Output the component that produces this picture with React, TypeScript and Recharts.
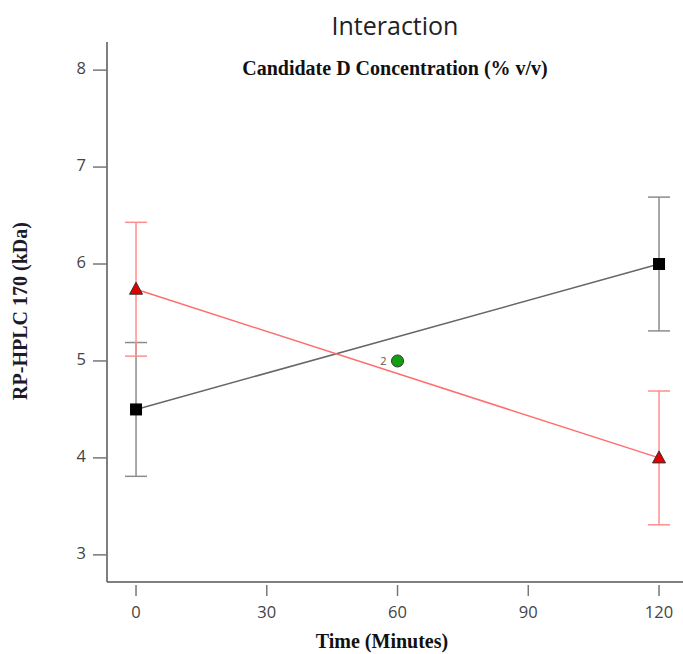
import { ComposedChart, ErrorBar, Line, Scatter, XAxis, YAxis } from 'recharts';

// Interaction plot: RP-HPLC 170 response vs. time at low / high Candidate D.
const TIME = [0, 120];
const LOW_D = [4.5, 6.0];
const LOW_D_ERR = [0.69, 0.69];
const HIGH_D = [5.74, 4.0];
const HIGH_D_ERR = [0.69, 0.69];
const CENTER_T = [60];
const CENTER_V = [5.0];
const CENTER_N = ['2'];

const X_TICKS = [0, 30, 60, 90, 120];
const Y_TICKS = [3, 4, 5, 6, 7, 8];

const lowData = TIME.map((t, i) => ({ t, v: LOW_D[i], e: LOW_D_ERR[i] }));
const highData = TIME.map((t, i) => ({ t, v: HIGH_D[i], e: HIGH_D_ERR[i] }));
const centerData = CENTER_T.map((t, i) => ({ t, v: CENTER_V[i], n: CENTER_N[i] }));

const SANS = '"Open Sans", "Noto Sans", sans-serif';
const SERIF = '"Liberation Serif", "DejaVu Serif", serif';

const XTick = ({ x, y, payload }: any) => (
  <g>
    <line x1={x} x2={x} y1={y + 3} y2={y + 14} stroke="#777" strokeWidth={1.5} />
    <text x={x} y={y + 36} textAnchor="middle" fill="#444" fontSize={16.5} fontFamily={SANS}>
      {payload.value}
    </text>
  </g>
);

const YTick = ({ x, y, payload }: any) => (
  <g>
    <line x1={x - 14} x2={x} y1={y} y2={y} stroke="#777" strokeWidth={1.5} />
    <text x={x - 21} y={y + 4} textAnchor="end" fill="#444" fontSize={16.5} fontFamily={SANS}>
      {payload.value}
    </text>
  </g>
);

const squareDot = (p: any) => (
  <rect key={`sq-${p.index}`} x={p.cx - 6} y={p.cy - 6} width={12} height={12} fill="#000" />
);

const triangleDot = (p: any) => (
  <path
    key={`tri-${p.index}`}
    d={`M${p.cx},${p.cy - 7} L${p.cx + 6.5},${p.cy + 5} L${p.cx - 6.5},${p.cy + 5} Z`}
    fill="#e00000"
    stroke="#333"
    strokeWidth={1}
  />
);

const centerShape = (p: any) => (
  <g>
    <circle cx={p.cx} cy={p.cy} r={6} fill="#12a012" stroke="#333" strokeWidth={1} />
    <text x={p.cx - 11} y={p.cy + 4} textAnchor="end" fill="#555" fontSize={11} fontFamily={SANS}>
      {p.payload.n}
    </text>
  </g>
);

export default function App() {
  return (
    <div style={{ position: 'absolute', left: 0, top: 0, width: 683, height: 654 }}>
      <div
        style={{
          position: 'absolute',
          left: 107,
          width: 576,
          top: 8,
          textAlign: 'center',
          fontFamily: SANS,
          fontSize: 25,
          lineHeight: '34px',
          color: '#222',
        }}
      >
        Interaction
      </div>
      <div
        style={{
          position: 'absolute',
          left: 107,
          width: 576,
          top: 56,
          textAlign: 'center',
          fontFamily: SERIF,
          fontWeight: 'bold',
          fontSize: 20,
          lineHeight: '24px',
          color: '#111',
          zIndex: 1,
        }}
      >
        Candidate D Concentration (% v/v)
      </div>
      <ComposedChart width={683} height={654} margin={{ top: 42, right: 0, bottom: 0, left: 47 }}>
        <XAxis
          dataKey="t"
          type="number"
          domain={[-6.66, 125.5]}
          ticks={X_TICKS}
          height={72}
          tickSize={0}
          tickMargin={0}
          tick={<XTick />}
          axisLine={{ stroke: '#555', strokeWidth: 1.5 }}
          allowDataOverflow
          label={{
            content: () => (
              <text x={382} y={648} textAnchor="middle" fill="#111" fontSize={20} fontWeight="bold" fontFamily={SERIF}>
                Time (Minutes)
              </text>
            ),
          }}
        />
        <XAxis
          xAxisId="top"
          dataKey="t"
          type="number"
          orientation="top"
          domain={[-6.66, 125.5]}
          height={0}
          tick={false}
          tickLine={false}
          axisLine={{ stroke: '#555', strokeWidth: 1.5 }}
          allowDataOverflow
        />
        <YAxis
          type="number"
          domain={[2.72, 8.29]}
          ticks={Y_TICKS}
          width={60}
          tickSize={0}
          tickMargin={0}
          tick={<YTick />}
          axisLine={{ stroke: '#555', strokeWidth: 1.5 }}
          allowDataOverflow
          label={{
            content: () => (
              <text
                x={27}
                y={311}
                transform="rotate(-90 27 311)"
                textAnchor="middle"
                fill="#1e1a2a"
                fontSize={20}
                fontWeight="bold"
                fontFamily={SERIF}
              >
                RP-HPLC 170 (kDa)
              </text>
            ),
          }}
        />
        <Line
          data={lowData}
          dataKey="v"
          stroke="#666"
          strokeWidth={1.5}
          dot={squareDot}
          activeDot={false}
          isAnimationActive={false}
        >
          <ErrorBar dataKey="e" direction="y" width={11} stroke="#8c8c8c" strokeWidth={1.5} />
        </Line>
        <Line
          data={highData}
          dataKey="v"
          stroke="#ff6e6e"
          strokeWidth={1.5}
          dot={triangleDot}
          activeDot={false}
          isAnimationActive={false}
        >
          <ErrorBar dataKey="e" direction="y" width={11} stroke="#ff8e8e" strokeWidth={1.5} />
        </Line>
        <Scatter data={centerData} dataKey="v" shape={centerShape} isAnimationActive={false} />
      </ComposedChart>
    </div>
  );
}
